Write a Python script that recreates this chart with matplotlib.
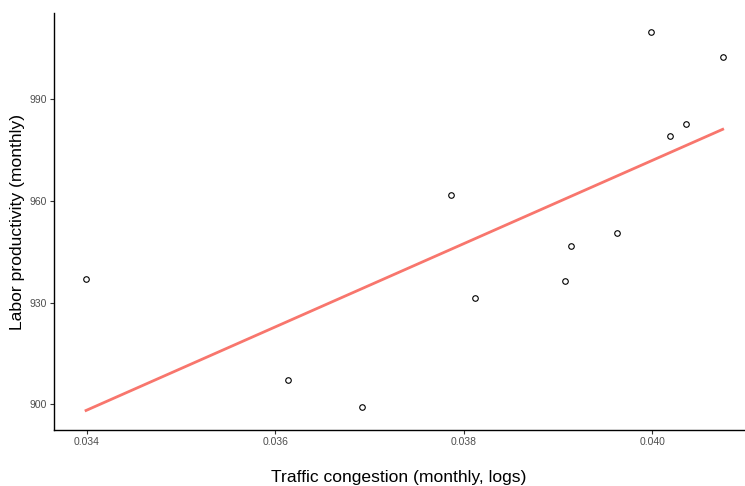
import numpy as np
import matplotlib
matplotlib.use("Agg")
import matplotlib.pyplot as plt

plt.rcParams['font.family'] = ['Liberation Sans', 'DejaVu Sans']

congestion = [0.03399, 0.036136, 0.036922, 0.037868, 0.038123, 0.039069,
              0.039143, 0.039622, 0.039983, 0.040185, 0.040355, 0.040748]
productivity = [937.0, 907.2, 899.2, 961.8, 931.4, 936.4,
                946.7, 950.5, 1009.9, 979.2, 982.7, 1002.5]
xticks = [0.034, 0.036, 0.038, 0.040]
xticklabels = ["0.034", "0.036", "0.038", "0.040"]
yticks = [900, 930, 960, 990]
yticklabels = ["900", "930", "960", "990"]

x = np.array(congestion)
y = np.array(productivity)

fig = plt.figure(figsize=(7.45, 4.86), dpi=100)
ax = fig.add_axes([0.0725, 0.1152, 0.9265, 0.858])

slope, intercept = np.polyfit(x, y, 1)
xl = np.array([x.min(), x.max()])
ax.plot(xl, intercept + slope * xl, color="#F8766D", lw=2.0, zorder=2)
ax.plot(x, y, linestyle="none", marker="o", markersize=4.0, markerfacecolor="none",
        markeredgecolor="black", markeredgewidth=0.8, zorder=3)

ax.set_xlim(0.03365, 0.040977)
ax.set_ylim(892.4, 1015.5)

ax.set_xticks(xticks)
ax.set_xticklabels(xticklabels)
ax.set_yticks(yticks)
ax.set_yticklabels(yticklabels)
ax.tick_params(axis="both", colors="#333333", labelcolor="#4D4D4D", labelsize=7.5,
               length=3, width=0.8, pad=2)

for s in ["top", "right"]:
    ax.spines[s].set_visible(False)
for s in ["left", "bottom"]:
    ax.spines[s].set_color("black")
    ax.spines[s].set_linewidth(1.0)

ax.set_xlabel("Traffic congestion (monthly, logs)", fontsize=12.6, color="black")
ax.set_ylabel("Labor productivity (monthly)", fontsize=12.6, color="black")
ax.xaxis.set_label_coords(0.5, -(477 - 430) / 417.0, transform=ax.transAxes)
ax.xaxis.label.set_verticalalignment("center")
ax.yaxis.set_label_coords(-(54 - 18) / 690.0, 0.5, transform=ax.transAxes)
ax.yaxis.label.set_verticalalignment("center")

fig.savefig("out.png", dpi=100, facecolor="white")
